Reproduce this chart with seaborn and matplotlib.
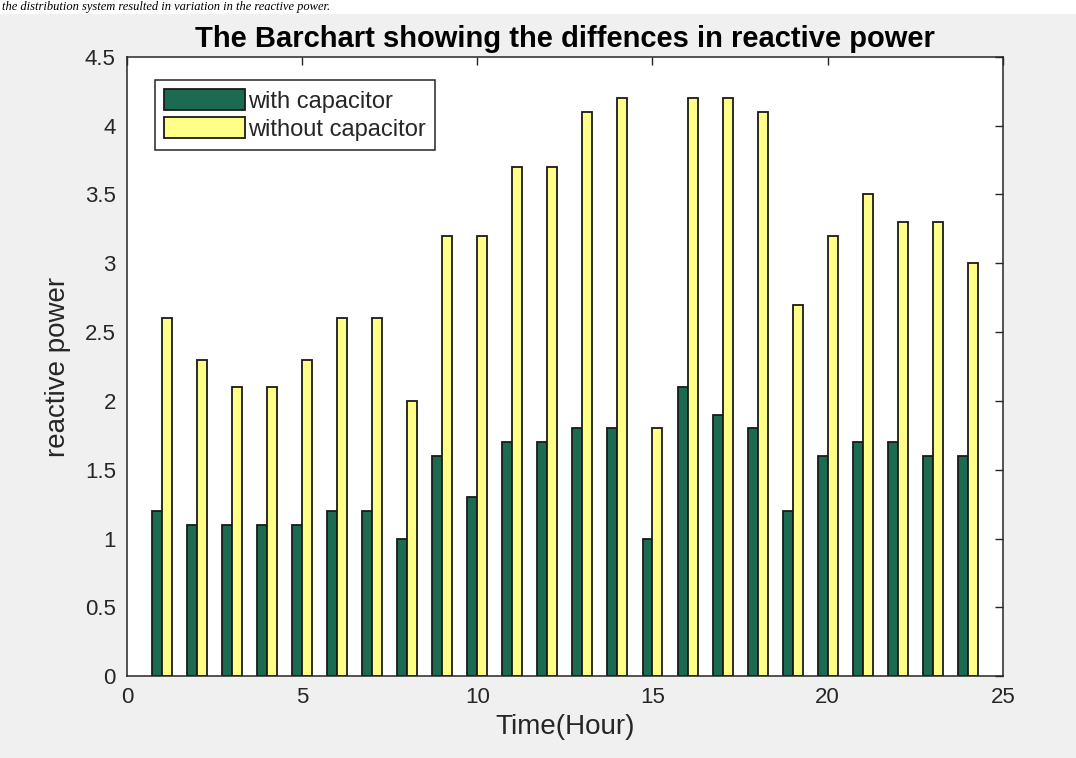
import pandas as pd
import matplotlib.pyplot as plt
import seaborn as sns
from matplotlib.patches import Rectangle

# values
hours = list(range(1, 25))
with_cap = [1.2, 1.1, 1.1, 1.1, 1.1, 1.2, 1.2, 1.0, 1.6, 1.3, 1.7, 1.7,
            1.8, 1.8, 1.0, 2.1, 1.9, 1.8, 1.2, 1.6, 1.7, 1.7, 1.6, 1.6]
without_cap = [2.6, 2.3, 2.1, 2.1, 2.3, 2.6, 2.6, 2.0, 3.2, 3.2, 3.7, 3.7,
               4.1, 4.2, 1.8, 4.2, 4.2, 4.1, 2.7, 3.2, 3.5, 3.3, 3.3, 3.0]
series_names = ['with capacitor', 'without capacitor']
x_ticks = [0, 5, 10, 15, 20, 25]
y_ticks = [0, 0.5, 1, 1.5, 2, 2.5, 3, 3.5, 4, 4.5]

df = pd.DataFrame({
    'hour': hours * 2,
    'power': with_cap + without_cap,
    'series': [series_names[0]] * len(hours) + [series_names[1]] * len(hours),
})

sns.set_style('white')
plt.rcParams['font.family'] = ['Liberation Sans', 'DejaVu Sans']

fig = plt.figure(figsize=(10.76, 7.58), dpi=100, facecolor='#f0f0f0')
ax = fig.add_axes([0.118, 0.108, 0.814, 0.817])
ax.set_facecolor('white')

# white strip with the caption line at the very top
fig.patches.append(Rectangle((0, 1 - 14 / 758), 1, 14 / 758, transform=fig.transFigure,
                             facecolor='white', edgecolor='none', zorder=0))
fig.text(0.002, 1 - 1 / 758, 'the distribution system resulted in variation in the reactive power.',
         family='Liberation Serif', style='italic', fontsize=9, color='black', va='top')

sns.barplot(data=df, x='hour', y='power', hue='series', native_scale=True,
            palette=['#1b6b52', '#ffff88'], saturation=1, width=0.57, errorbar=None,
            edgecolor='#1a1a1a', linewidth=1.3, ax=ax)

ax.set_xlim(0, 25)
ax.set_ylim(0, 4.5)
ax.set_xticks(x_ticks)
ax.set_xticklabels([str(t) for t in x_ticks])
ax.set_yticks(y_ticks)
ax.set_yticklabels(['0', '0.5', '1', '1.5', '2', '2.5', '3', '3.5', '4', '4.5'])
ax.tick_params(direction='in', top=True, right=True, length=6, width=1,
               labelsize=16, colors='#262626', pad=8)
for s in ax.spines.values():
    s.set_visible(True)
    s.set_color('#262626')
    s.set_linewidth(1.1)

ax.set_xlabel('Time(Hour)', fontsize=20, color='#262626', labelpad=4)
ax.set_ylabel('reactive power', fontsize=20, color='#262626', labelpad=10)
ax.set_title('The Barchart showing the diffences in reactive power',
             fontsize=21, fontweight='bold', color='black', pad=7)

sns.move_legend(ax, 'upper left', bbox_to_anchor=(0.032, 0.963), title=None,
                fontsize=17, frameon=True, fancybox=False, framealpha=1,
                edgecolor='#262626', handlelength=3.4, handleheight=0.95,
                handletextpad=0.15, labelspacing=0.2, borderpad=0.4,
                borderaxespad=0)
ax.get_legend().get_frame().set_linewidth(1.1)

plt.savefig('out.png', dpi=100, facecolor=fig.get_facecolor())
